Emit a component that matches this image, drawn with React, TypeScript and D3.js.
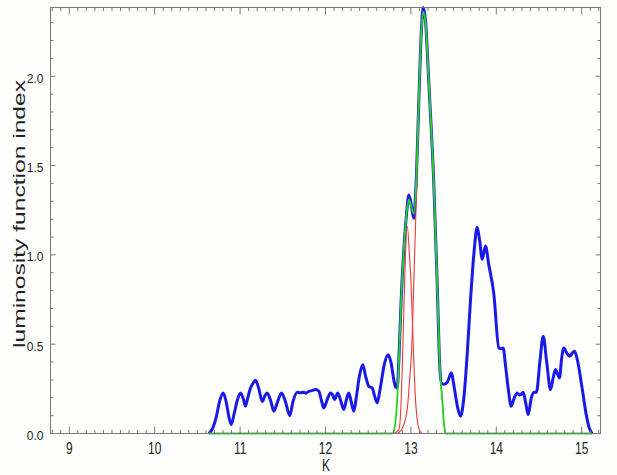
import React, { useEffect } from "react";
import * as d3 from "d3";

// Blue: measured luminosity function
const K_BLUE = [10.634, 10.68, 10.72, 10.76, 10.802, 10.84, 10.87, 10.896, 10.93, 10.97, 11.005, 11.04, 11.063, 11.09, 11.122, 11.15, 11.18, 11.22, 11.259, 11.29, 11.317, 11.36, 11.395, 11.44, 11.485, 11.53, 11.582, 11.62, 11.669, 11.70, 11.746, 11.77, 11.805, 11.84, 11.883, 11.922, 11.95, 11.98, 12.02, 12.059, 12.085, 12.105, 12.144, 12.18, 12.214, 12.245, 12.273, 12.30, 12.332, 12.36, 12.40, 12.437, 12.47, 12.507, 12.547, 12.575, 12.605, 12.64, 12.69, 12.734, 12.77, 12.80, 12.82, 12.84, 12.858, 12.886, 12.917, 12.949, 12.976, 13.004, 13.034, 13.05, 13.066, 13.093, 13.121, 13.144, 13.171, 13.21, 13.268, 13.308, 13.338, 13.36, 13.39, 13.425, 13.472, 13.51, 13.545, 13.581, 13.62, 13.66, 13.698, 13.74, 13.776, 13.805, 13.835, 13.874, 13.91, 13.97, 14.03, 14.055, 14.08, 14.11, 14.14, 14.175, 14.21, 14.245, 14.27, 14.29, 14.315, 14.345, 14.373, 14.41, 14.44, 14.47, 14.51, 14.549, 14.59, 14.635, 14.665, 14.693, 14.72, 14.74, 14.765, 14.79, 14.825, 14.86, 14.89, 14.916, 14.95, 14.99, 15.025, 15.055, 15.083, 15.12];
const LF_BLUE = [0, 0.03, 0.09, 0.18, 0.227, 0.17, 0.09, 0.05, 0.11, 0.19, 0.227, 0.19, 0.153, 0.2, 0.255, 0.28, 0.298, 0.25, 0.18, 0.21, 0.227, 0.18, 0.125, 0.18, 0.227, 0.18, 0.10, 0.18, 0.231, 0.228, 0.231, 0.226, 0.236, 0.24, 0.246, 0.236, 0.19, 0.143, 0.19, 0.227, 0.215, 0.19, 0.227, 0.18, 0.134, 0.19, 0.227, 0.18, 0.125, 0.2, 0.33, 0.385, 0.32, 0.264, 0.255, 0.21, 0.172, 0.25, 0.39, 0.441, 0.39, 0.30, 0.26, 0.255, 0.40, 0.75, 1.03, 1.23, 1.335, 1.28, 1.205, 1.3, 1.46, 1.866, 2.24, 2.385, 2.31, 1.96, 1.40, 0.84, 0.376, 0.28, 0.276, 0.285, 0.339, 0.25, 0.15, 0.097, 0.2, 0.45, 0.749, 1.02, 1.155, 1.08, 0.976, 1.05, 0.95, 0.786, 0.479, 0.475, 0.479, 0.37, 0.25, 0.153, 0.2, 0.227, 0.215, 0.218, 0.231, 0.17, 0.106, 0.2, 0.23, 0.231, 0.4, 0.544, 0.4, 0.246, 0.31, 0.358, 0.33, 0.311, 0.42, 0.479, 0.45, 0.432, 0.45, 0.46, 0.41, 0.3, 0.19, 0.1, 0.04, 0];

// Green: total fitted model
const K_GREEN = [10.634, 12.781, 12.808, 12.84, 12.858, 12.886, 12.917, 12.949, 12.976, 13.004, 13.034, 13.066, 13.093, 13.121, 13.144, 13.171, 13.21, 13.268, 13.308, 13.338, 13.367, 13.386, 13.405, 15.12];
const LF_GREEN = [0, 0, 0.03, 0.19, 0.376, 0.75, 1.03, 1.23, 1.31, 1.27, 1.23, 1.46, 1.87, 2.24, 2.36, 2.30, 1.96, 1.40, 0.84, 0.376, 0.19, 0.06, 0, 0];

// Red: individual components
const K_RED1 = [12.80, 12.858, 12.88, 12.898, 12.915, 12.935, 12.958, 12.985, 13.0, 13.016, 13.034, 13.05, 13.073, 13.10, 13.13];
const LF_RED1 = [0, 0.02, 0.12, 0.36, 0.65, 0.98, 1.16, 0.98, 0.86, 0.65, 0.40, 0.22, 0.08, 0.02, 0];
const K_RED2 = [12.84, 12.87, 12.90, 12.93, 12.958, 12.985, 13.016, 13.034, 13.05, 13.066, 13.093, 13.121, 13.144, 13.171, 13.21, 13.268, 13.308, 13.338, 13.367, 13.386, 13.405];
const LF_RED2 = [0, 0.01, 0.03, 0.07, 0.14, 0.3, 0.55, 0.85, 1.1, 1.36, 1.84, 2.23, 2.36, 2.30, 1.96, 1.40, 0.84, 0.376, 0.19, 0.06, 0];

const X_MAJOR = [9, 10, 11, 12, 13, 14, 15];
const Y_MAJOR = [0, 0.5, 1.0, 1.5, 2.0];
const Y_LABELS = ["0.0", "0.5", "1.0", "1.5", "2.0"];

const W = 617, H = 475;
const L = 50.5, R = 600.5, T = 7.5, B = 433.5;

export default function App() {
  useEffect(() => { document.body.style.margin = "0"; }, []);
  const x = d3.scaleLinear().domain([8.78, 15.22]).range([L, R]);
  const y = d3.scaleLinear().domain([0, 2.385]).range([B, T]);

  const mk = (ks: number[], vs: number[]) =>
    d3.line<number>().x((_, i) => x(ks[i])).y((v) => y(v)).curve(d3.curveMonotoneX)(vs) || "";

  const xMinor = d3.range(88, 153).map((v) => v / 10).filter((v) => Math.abs(v - Math.round(v)) > 1e-6);
  const yMinor = d3.range(1, 24).map((v) => v / 10).filter((v) => Math.abs(v * 2 - Math.round(v * 2)) > 1e-6);
  const axisCol = "#7a7a7a";
  const font = "Liberation Sans, Arial, sans-serif";

  return (
    <svg width={W} height={H} style={{ position: "absolute", left: 0, top: 0, background: "#fefefd" }}>
      <rect x={0} y={0} width={W} height={H} fill="#fefefd" />
      {/* data */}
      <path d={mk(K_BLUE, LF_BLUE)} fill="none" stroke="#1a1ae8" strokeWidth={3} strokeLinejoin="round" />
      <path d={mk(K_RED2, LF_RED2)} fill="none" stroke="#e83a3a" strokeWidth={1.1} />
      <path d={mk(K_RED1, LF_RED1)} fill="none" stroke="#e83a3a" strokeWidth={1.1} />
      <path d={mk(K_GREEN, LF_GREEN)} fill="none" stroke="#22d622" strokeWidth={1.8} />
      {/* frame */}
      <rect x={L} y={T} width={R - L} height={B - T} fill="none" stroke={axisCol} strokeWidth={1} />
      {/* x ticks */}
      {X_MAJOR.map((v) => (
        <g key={"xm" + v}>
          <line x1={x(v)} x2={x(v)} y1={B} y2={B - 7} stroke={axisCol} />
          <line x1={x(v)} x2={x(v)} y1={T} y2={T + 7} stroke={axisCol} />
          <text transform={`translate(${x(v)},453.5) scale(1,1.4)`} textAnchor="middle" fontFamily={font} fontSize={12} fill="#222">{v}</text>
        </g>
      ))}
      {xMinor.map((v) => (
        <g key={"xn" + v}>
          <line x1={x(v)} x2={x(v)} y1={B} y2={B - 3.5} stroke={axisCol} />
          <line x1={x(v)} x2={x(v)} y1={T} y2={T + 3.5} stroke={axisCol} />
        </g>
      ))}
      {/* y ticks */}
      {Y_MAJOR.map((v, i) => (
        <g key={"ym" + v}>
          <line x1={L} x2={L + 5} y1={y(v)} y2={y(v)} stroke={axisCol} />
          <line x1={R} x2={R - 5} y1={y(v)} y2={y(v)} stroke={axisCol} />
          <text x={43.5} y={y(v) + 6.5} textAnchor="end" fontFamily={font} fontSize={12} fill="#222">{Y_LABELS[i]}</text>
        </g>
      ))}
      {yMinor.map((v) => (
        <g key={"yn" + v}>
          <line x1={L} x2={L + 3} y1={y(v)} y2={y(v)} stroke={axisCol} />
          <line x1={R} x2={R - 3} y1={y(v)} y2={y(v)} stroke={axisCol} />
        </g>
      ))}
      {/* axis titles */}
      <text transform="translate(326,470.5) scale(1,1.35)" textAnchor="middle" fontFamily={font} fontSize={12} fill="#222">K</text>
      <text transform="translate(25,214) rotate(-90)" textAnchor="middle" fontFamily={font} fontSize={16.5} textLength={268} lengthAdjust="spacingAndGlyphs" fill="#222">luminosity function index</text>
    </svg>
  );
}
